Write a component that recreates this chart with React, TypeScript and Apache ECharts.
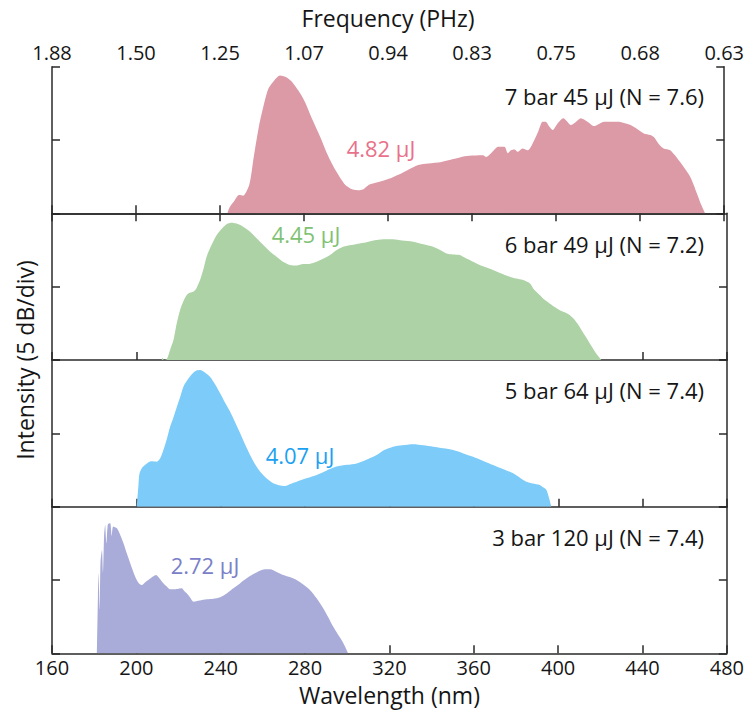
import React, { useEffect, useRef } from "react";
import * as echarts from "echarts";

// ---------- data ----------
const wavelengthTicks = [160, 200, 240, 280, 320, 360, 400, 440, 480];
const freqLabels = ["1.88", "1.50", "1.25", "1.07", "0.94", "0.83", "0.75", "0.68", "0.63"];

const pinkX = [243.5, 244.5, 247, 249, 251, 254, 256, 258.6, 261, 263, 266, 268.5, 271.3, 274, 276, 278.5, 280.7, 283, 285.5, 288, 290.2, 292.5, 294.9, 297.3, 299.7, 302, 304.4, 306.5, 308.3, 310.7, 314, 318.6, 322, 326.5, 330, 334.4, 339.1, 345.4, 351, 356.5, 361, 365.2, 366.7, 369, 371, 372.3, 375.4, 377, 378.5, 380.2, 381.7, 384, 386.5, 389.6, 391.5, 393.5, 395, 396.8, 398.3, 400.7, 403.4, 405, 407, 409.5, 411.7, 414.9, 418, 422.8, 429.1, 435.4, 441.7, 444.8, 446.5, 449, 451.2, 454.3, 459, 463.8, 467, 469, 470.9];
const pinkY = [0, 4, 9, 12.5, 12, 20, 38, 60, 75, 85, 91, 94, 93, 90, 86.3, 81, 75, 67, 59, 51, 43.2, 36, 29.5, 24, 19.3, 17, 15.9, 15.8, 16.4, 19.3, 20.8, 22.7, 24.5, 27.3, 30, 33, 34, 35, 37, 39, 39.5, 39.7, 38.5, 41, 44, 45.4, 45.4, 41, 43, 43.6, 42, 44.3, 43, 50, 56, 62.5, 62.5, 59, 56.8, 61.3, 64.8, 63, 60.2, 62.5, 64.8, 62.5, 59.5, 62.5, 62.5, 60.2, 54.5, 53.4, 52, 47, 44.3, 43, 35, 25, 13.6, 6, 0];

const greenX = [212, 212.4, 213, 214.4, 216, 217.6, 219, 220.7, 222.3, 223.9, 225.5, 227, 228.5, 230.2, 231.8, 233.3, 235.5, 238.1, 240.5, 242.9, 245.2, 247, 249.2, 251.5, 253.9, 257, 260.2, 263.3, 266.5, 269.5, 272.8, 276, 279.1, 282, 285.5, 288.5, 291.8, 295, 298, 302, 306, 310, 313.9, 318, 321.7, 326, 331.2, 336, 340.7, 344, 347, 350, 353.3, 356, 358, 362.8, 366, 369, 373, 377, 380, 383.3, 386.5, 388.5, 391.2, 393.5, 395.9, 398.5, 400.7, 403, 405.4, 408, 410.1, 412.5, 414.9, 417.5, 420.4];
const greenY = [0, 1.5, 0, 0.5, 7, 13.6, 24, 34, 40, 44.3, 46, 46.6, 49, 54.5, 62, 70.4, 78, 85.2, 89.5, 92.7, 93.6, 93.2, 92, 90, 87.5, 83, 78.4, 74, 70.4, 67, 64.8, 64.5, 65.4, 65.5, 67, 69, 71.6, 75, 77.3, 78.5, 79.5, 80.7, 81.8, 82.3, 82.3, 81.5, 80.7, 79, 77.3, 75, 72.7, 72, 71.6, 69.5, 68.2, 64.8, 63, 61.4, 59, 56.8, 55.5, 54.5, 52.3, 48, 44.3, 41, 38.6, 36, 34, 32.5, 30.7, 27, 22.7, 17, 11.4, 5.5, 0];

const blueX = [200.2, 201, 201.5, 203, 205, 207, 209.7, 211.3, 212.8, 214.4, 216, 217.6, 219.2, 220.8, 222.3, 224.5, 227, 228.5, 230.2, 232.5, 234.9, 237.3, 239.7, 242, 244.4, 246.8, 249.2, 251.5, 253.9, 256.2, 258.6, 261.5, 264.9, 267.5, 270.5, 273, 276, 281, 285.5, 290, 294.9, 300, 304.4, 309, 313.9, 317.5, 321.7, 326, 331.2, 336, 340.7, 345.5, 350.2, 355, 359.6, 364.5, 369.1, 374, 378.6, 382, 384.9, 388, 391.2, 393, 394.4, 395.6, 396.7];
const blueY = [0, 15, 22.7, 27, 29.5, 31, 30.7, 33, 38.6, 46, 54.5, 61, 68.2, 75, 81.8, 87, 91.3, 92.8, 93.2, 91.5, 88.6, 83.5, 77.3, 71, 64.8, 57.5, 50, 42.5, 35.2, 29, 23.9, 19.5, 15.9, 14.6, 14.1, 15.5, 17, 19.5, 21.6, 24.5, 27.3, 28.5, 29.5, 32, 35.2, 38.6, 40.9, 41.8, 42.5, 41.8, 40.9, 39.8, 38.6, 36.3, 34, 31.2, 28.4, 25.5, 22.7, 19.5, 17, 15.8, 14.8, 13, 11.4, 6, 0];

const purpleX = [181.3, 181.8, 182.1, 182.6, 183, 183.7, 184.2, 184.7, 185.2, 185.8, 186.5, 187.6, 188.3, 189, 190.8, 192.4, 193.9, 195.5, 197.1, 198.7, 200.2, 201.4, 202.6, 204.2, 205.7, 207.5, 209.4, 211, 212.8, 214.4, 216, 218, 220, 221.5, 222.7, 223.9, 225.5, 227, 230, 233.4, 236.5, 239.7, 243, 246, 249, 252.3, 255.5, 258.6, 261, 263.4, 266.5, 269.7, 273, 276, 279, 282.3, 285.5, 288.6, 291, 293.3, 295.3, 297.3, 299, 300.4];
const purpleY = [0, 40, 54.5, 30, 62, 70.4, 55, 80, 87.5, 75, 88, 88.6, 80, 86.5, 85.2, 80.5, 75, 68, 61.4, 55, 50, 47.5, 46.6, 48.5, 50, 52, 53.4, 51, 47.7, 45.5, 43.6, 43.6, 44, 44.3, 42.5, 40.9, 38, 35.2, 36, 36.8, 37.2, 38.2, 41, 44.3, 47.5, 51.1, 54, 56.3, 57.3, 57.3, 55.5, 53.4, 51.8, 50, 47, 43.2, 37.5, 30.7, 24.5, 18.2, 13.5, 9.1, 4.5, 0];

const panelTitles = ["7 bar 45 μJ (N = 7.6)", "6 bar 49 μJ (N = 7.2)", "5 bar 64 μJ (N = 7.4)", "3 bar 120 μJ (N = 7.4)"];
const energyLabels = ["4.82 μJ", "4.45 μJ", "4.07 μJ", "2.72 μJ"];

// ---------- styling ----------
const fills = ["#dc99a6", "#acd2a5", "#7ccbf8", "#a9acd8"];
const labelColors = ["#e8718b", "#80c274", "#1ba1f2", "#7a80c8"];
const FONT = "'Open Sans', 'Noto Sans', sans-serif";
const AX = "#2a2a2a";
const TXT = "#151515";

export default function App() {
  const ref = useRef<HTMLDivElement>(null);
  useEffect(() => {
    document.body.style.margin = "0";
    if (!ref.current) return;
    const chart = echarts.init(ref.current, undefined, { renderer: "svg" });

    const left = 52, right = 20, top0 = 66.7, ph = 146.65;
    const grids: any[] = [];
    const xAxes: any[] = [];
    const yAxes: any[] = [];
    const series: any[] = [];
    const xs = [pinkX, greenX, blueX, purpleX];
    const ys = [pinkY, greenY, blueY, purpleY];

    const lineStyle = { color: AX, width: 1.5 };
    for (let i = 0; i < 4; i++) {
      grids.push({ left, right, top: top0 + i * ph, height: ph });
      xAxes.push({
        gridIndex: i, type: "value", position: "bottom",
        min: wavelengthTicks[0], max: wavelengthTicks[wavelengthTicks.length - 1], interval: 40,
        axisLine: { show: true, lineStyle },
        axisTick: { show: true, inside: true, length: 8, lineStyle },
        axisLabel: { show: i === 3, color: TXT, fontSize: 20, fontFamily: FONT, margin: 3, lineHeight: 22 },
        splitLine: { show: false },
        name: i === 3 ? "Wavelength (nm)" : "",
        nameLocation: "middle", nameGap: 29,
        nameTextStyle: { color: TXT, fontSize: 23, fontFamily: FONT, lineHeight: 26 },
      });
      yAxes.push({
        gridIndex: i, type: "value", position: "left", min: 0, max: 100, interval: 50,
        axisLine: { show: true, lineStyle },
        axisTick: { show: true, inside: true, length: 8, lineStyle },
        axisLabel: { show: false }, splitLine: { show: false },
      });
      yAxes.push({
        gridIndex: i, type: "value", position: "right", min: 0, max: 100, interval: 50,
        axisLine: { show: true, lineStyle },
        axisTick: { show: true, inside: true, length: 8, lineStyle },
        axisLabel: { show: false }, splitLine: { show: false },
      });
      series.push({
        type: "line", xAxisIndex: i, yAxisIndex: i * 2,
        data: xs[i].map((x, k) => [x, ys[i][k]]),
        showSymbol: false, symbol: "none", smooth: 0.25,
        lineStyle: { width: 0 },
        itemStyle: { color: fills[i] },
        areaStyle: { color: fills[i], opacity: 1 },
        z: 1,
      });
    }
    xAxes.push({
      gridIndex: 0, type: "value", position: "top",
      min: wavelengthTicks[0], max: wavelengthTicks[wavelengthTicks.length - 1], interval: 40,
      axisLine: { show: true, lineStyle },
      axisTick: { show: true, inside: true, length: 8, lineStyle },
      axisLabel: {
        show: true, color: TXT, fontSize: 20, fontFamily: FONT, margin: 3, lineHeight: 22,
        formatter: (v: number) => freqLabels[wavelengthTicks.indexOf(v)] ?? "",
      },
      splitLine: { show: false },
      name: "Frequency (PHz)", nameLocation: "middle", nameGap: 36,
      nameTextStyle: { color: TXT, fontSize: 23, fontFamily: FONT, lineHeight: 26 },
    });

    const titleY = [96, 244, 390, 537];
    const energyPos = [[381, 148], [306, 234], [300, 455], [205, 565]];
    const graphic: any[] = [];
    for (let i = 0; i < 4; i++) {
      graphic.push({
        type: "text", x: 704, y: titleY[i],
        style: { text: panelTitles[i], fill: TXT, font: `22px ${FONT}`, textAlign: "right", textVerticalAlign: "middle" },
        z: 10,
      });
      graphic.push({
        type: "text", x: energyPos[i][0], y: energyPos[i][1],
        style: { text: energyLabels[i], fill: labelColors[i], font: `22px ${FONT}`, textAlign: "center", textVerticalAlign: "middle" },
        z: 10,
      });
    }
    graphic.push({
      type: "text", x: 25, y: 360, rotation: Math.PI / 2,
      style: { text: "Intensity (5 dB/div)", fill: TXT, font: `23px ${FONT}`, textAlign: "center", textVerticalAlign: "middle" },
      z: 10,
    });

    chart.setOption({
      animation: false,
      grid: grids,
      xAxis: xAxes,
      yAxis: yAxes,
      series,
      graphic,
    });
    return () => chart.dispose();
  }, []);
  return <div ref={ref} style={{ width: 747, height: 717 }} />;
}
